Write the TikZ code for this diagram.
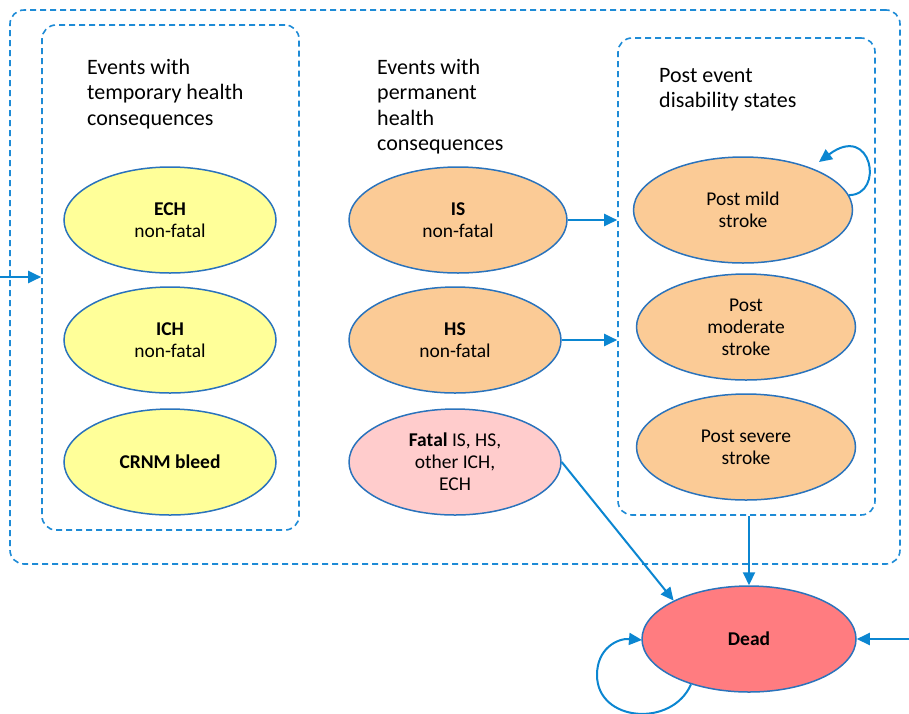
\documentclass[tikz,border=0pt]{standalone}
\usepackage{fontspec}
\setmainfont{Carlito}
\usetikzlibrary{arrows.meta,shapes.geometric}
\definecolor{dashblue}{HTML}{1E8BD6}
\definecolor{arrowblue}{HTML}{0B86D1}
\definecolor{ellborder}{HTML}{2A73BC}
\definecolor{yfill}{HTML}{FFFF99}
\definecolor{ofill}{HTML}{FBCB96}
\definecolor{pfill}{HTML}{FFCCCC}
\definecolor{dfill}{HTML}{FF7C80}
\begin{document}
\begin{tikzpicture}[x=1pt,y=-1pt,
  state/.style={ellipse, draw=ellborder, line width=1.5pt, minimum width=212pt, minimum height=106pt, inner sep=0pt, align=center, font=\fontsize{19.5}{22}\selectfont},
  grp/.style={draw=dashblue, dash pattern=on 6pt off 4pt, line width=1.6pt, rounded corners=14pt, inner sep=0pt},
  flow/.style={draw=arrowblue, line width=2pt, -{Triangle[length=13pt,width=12pt]}},
  heading/.style={anchor=north west, align=left, inner sep=0pt, font=\fontsize{22}{25.5}\selectfont}]
\useasboundingbox (0,0) rectangle (909,713);
% groups
\node[grp, minimum width=890pt, minimum height=554pt] (outer) at (455,287) {};
\node[grp, minimum width=257pt, minimum height=505pt] (left) at (170.5,277.5) {};
\node[grp, minimum width=257pt, minimum height=477pt] (right) at (746.5,276.5) {};
% headings
\node[heading] (h1) at (87,59) {Events with\\temporary health\\consequences};
\node[heading] (h2) at (377,59) {Events with\\permanent\\health\\consequences};
\node[heading] (h3) at (659,68) {Post event\\disability states};
% states
\node[state, fill=yfill] (ech) at (170,220) {\textbf{ECH}\\non-fatal};
\node[state, fill=yfill] (ich) at (170,340) {\textbf{ICH}\\non-fatal};
\node[state, fill=yfill] (crnm) at (170,462) {\textbf{CRNM bleed}};
\node[state, fill=ofill, minimum width=218pt] (is) at (458,220) {\textbf{IS}\\non-fatal};
\node[state, fill=ofill] (hs) at (455,340) {\textbf{HS}\\non-fatal};
\node[state, fill=pfill] (fatal) at (455,462) {\textbf{Fatal} IS, HS,\\other ICH,\\ECH};
\node[state, fill=ofill, minimum width=219pt] (pmild) at (743,210) {Post mild\\stroke};
\node[state, fill=ofill, minimum width=219pt] (pmod) at (746,327) {Post\\moderate\\stroke};
\node[state, fill=ofill, minimum width=219pt] (psev) at (746,447) {Post severe\\stroke};
\node[state, fill=dfill, minimum width=214pt] (dead) at (749,639) {\textbf{Dead}};
% connectors
\coordinate (inL) at (0,277);
\coordinate (inR) at (909,639);
\draw[flow] (inL) -- (inL -| left.west);
\draw[flow] (is.east) -- (is.east -| right.west);
\draw[flow] (hs.east) -- (hs.east -| right.west);
\draw[flow] (fatal.east) -- (dead.153);
\draw[flow] (right.south -| dead.north) -- (dead.north);
\draw[flow] (inR) -- (dead.east);
\coordinate (pmtip) at (819,162);
\draw[flow] (pmild.8) .. controls (885,195) and (872,122) .. (pmtip);
\coordinate (dlA) at (597,675);
\coordinate (dtip) at (642,640);
\draw[flow] (dead.218) .. controls (672,728) and (597,722) .. (dlA) .. controls (597,648) and (618,638) .. (dtip);
\end{tikzpicture}
\end{document}
